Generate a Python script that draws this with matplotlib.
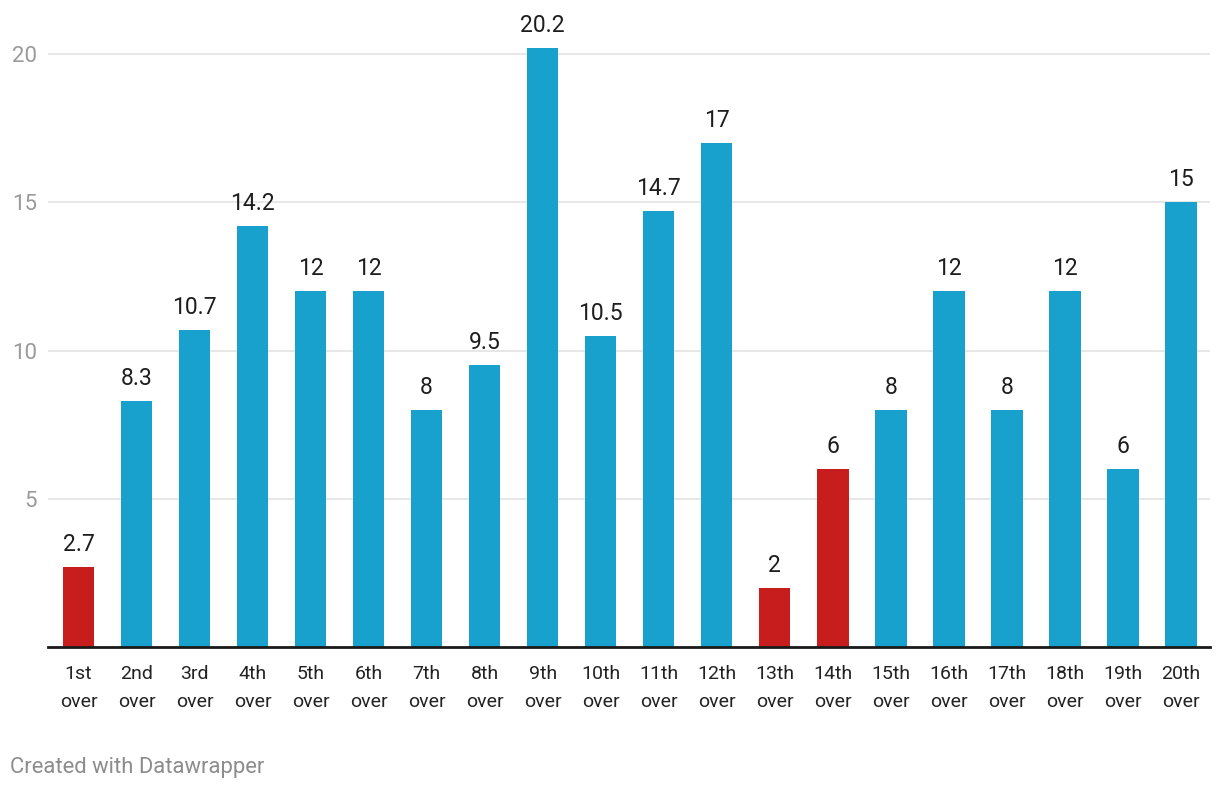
import matplotlib.pyplot as plt

overs = ['1st', '2nd', '3rd', '4th', '5th', '6th', '7th', '8th', '9th', '10th',
         '11th', '12th', '13th', '14th', '15th', '16th', '17th', '18th', '19th', '20th']
runs = [2.7, 8.3, 10.7, 14.2, 12, 12, 8, 9.5, 20.2, 10.5,
        14.7, 17, 2, 6, 8, 12, 8, 12, 6, 15]
low_overs = ['1st', '13th', '14th']

plt.rcParams['font.family'] = ['Roboto', 'DejaVu Sans']

blue = '#18a1cd'
red = '#c71e1d'
colors = [red if o in low_overs else blue for o in overs]

fig = plt.figure(figsize=(12.2, 7.9), dpi=100)
ax = fig.add_axes([48 / 1220, 1 - 647 / 790, 1162 / 1220, 622.6 / 790])

x = range(len(overs))
ax.bar(x, runs, width=0.54, color=colors, zorder=3)

for i, v in zip(x, runs):
    label = f'{v:g}'
    ax.annotate(label, (i, v), xytext=(0, 8), textcoords='offset points',
                ha='center', va='bottom', fontsize=16.5, color='#1d1d1d')

ax.set_xlim(-0.526, 19.5)
ax.set_ylim(0, 21)
ax.set_yticks([5, 10, 15, 20])
ax.yaxis.grid(True, color='#e3e3e3', linewidth=1.2, zorder=0)
ax.tick_params(axis='y', length=0, pad=8, labelsize=16, labelcolor='#9a9a9a')
ax.set_xticks(list(x))
ax.set_xticklabels([f'{o}\nover' for o in overs], fontsize=14, color='#222222',
                   linespacing=1.68)
ax.tick_params(axis='x', length=0, pad=13)

for s in ['top', 'right', 'left']:
    ax.spines[s].set_visible(False)
ax.spines['bottom'].set_color('#1a1a1a')
ax.spines['bottom'].set_linewidth(2)
ax.spines['bottom'].set_zorder(4)

fig.text(10 / 1220, 1 - 767 / 790, 'Created with Datawrapper', fontsize=15.8,
         color='#8c8c8c', va='center', ha='left')

fig.savefig('out.png', dpi=100)
